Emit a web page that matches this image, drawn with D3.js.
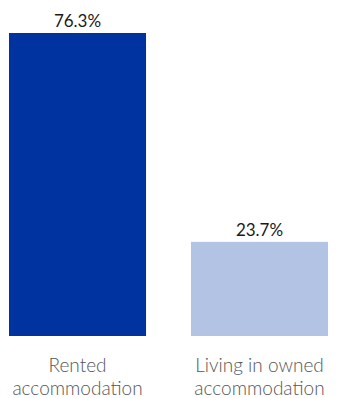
<!DOCTYPE html>
<html>
<head>
<meta charset="utf-8">
<script src="https://cdn.jsdelivr.net/npm/d3@7"></script>
<style>
  html, body { margin: 0; padding: 0; background: #fff; }
  svg { display: block; }
  text { font-family: Lato, "Open Sans", sans-serif; }
</style>
</head>
<body>
<svg id="chart" width="339" height="398"></svg>
<script>
// Share of households by accommodation type (%)
const categories = [["Rented", "accommodation"], ["Living in owned", "accommodation"]];
const values = [76.3, 23.7];
const colors = ["#0033a0", "#b3c3e3"];

const svg = d3.select("#chart");
const margin = { left: 9, right: 11, top: 33, bottom: 62 };
const W = 339, H = 398;

const x = d3.scaleBand()
  .domain(d3.range(values.length))
  .range([margin.left, W - margin.right])
  .paddingInner(0.247)
  .paddingOuter(0);

const y = d3.scaleLinear()
  .domain([0, d3.max(values)])
  .range([H - margin.bottom, margin.top]);

// Bars
svg.selectAll("rect.bar")
  .data(values)
  .join("rect")
  .attr("class", "bar")
  .attr("x", (d, i) => x(i))
  .attr("width", x.bandwidth())
  .attr("y", d => y(d))
  .attr("height", d => y(0) - y(d))
  .attr("fill", (d, i) => colors[i]);

// Value labels above bars
svg.selectAll("text.value")
  .data(values)
  .join("text")
  .attr("class", "value")
  .attr("x", (d, i) => x(i) + x.bandwidth() / 2)
  .attr("y", d => y(d) - 6)
  .attr("text-anchor", "middle")
  .attr("font-size", 17)
  .attr("fill", "#1a1a1a")
  .text(d => d3.format(".1f")(d) + "%");

// Category labels (two lines each)
const cat = svg.selectAll("text.cat")
  .data(categories)
  .join("text")
  .attr("class", "cat")
  .attr("text-anchor", "middle")
  .attr("font-size", 19)
  .attr("font-weight", 300)
  .attr("fill", "#555");

cat.selectAll("tspan")
  .data((d, i) => d.map(line => ({ line, i })))
  .join("tspan")
  .attr("x", d => x(d.i) + x.bandwidth() / 2)
  .attr("y", (d, j) => 372 + j * 23)
  .text(d => d.line);
</script>
</body>
</html>
